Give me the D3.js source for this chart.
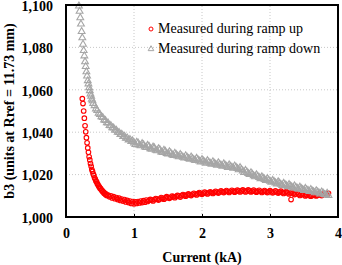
<!DOCTYPE html>
<html>
<head>
<meta charset="utf-8">
<script src="https://cdn.jsdelivr.net/npm/d3@7"></script>
<style>
  body { margin: 0; background: #fff; }
  svg text { font-family: "Liberation Serif", "Times New Roman", serif; }
</style>
</head>
<body>
<div id="vis"></div>
<script>
// ramp up (red circles)
var upCurrent = [0.24,0.25,0.26,0.27,0.28,0.29,0.30,0.31,0.32,0.33,0.34,0.35,0.36,0.37,0.38,0.39,0.40,0.41,0.42,0.43,0.44,0.45,0.46,0.47,0.48,0.49,0.50,0.51,0.52,0.53,0.54,0.55,0.56,0.57,0.58,0.59,0.60,
  0.62,0.64,0.66,0.68,0.70,0.72,0.74,0.76,0.78,0.80,0.82,0.84,0.86,0.88,0.90,0.92,0.94,0.96,0.98,1.00,1.02,1.04,1.06,1.08,1.10,1.12,1.14,1.16,1.18,1.20,
  1.24,1.28,1.32,1.36,1.40,1.44,1.48,1.52,1.56,1.60,1.64,1.68,1.72,1.76,1.80,1.84,1.88,1.92,1.96,2.00,2.04,2.08,2.12,2.16,2.20,2.24,2.28,2.32,2.36,2.40,
  2.44,2.48,2.52,2.56,2.60,2.64,2.68,2.72,2.76,2.80,2.84,2.88,2.92,2.96,3.00,3.04,3.08,3.12,3.16,3.20,3.24,3.28,3.31,3.32,3.36,3.40,3.44,3.48,3.52,3.56,
  3.60,3.64,3.68,3.72,3.76,3.80,3.84,3.86,
  1.22,1.26,1.30,1.34,1.38,1.42,1.46,1.50,1.54,1.58,1.62,1.66,1.70,1.74,1.78,1.82,1.86,1.90,1.94,1.98,2.02,2.06,2.10,2.14,2.18,2.22,2.26,2.30,2.34,2.38,
  2.42,2.46,2.50,2.54,2.58,2.62,2.66,2.70,2.74,2.78,2.82,2.86,2.90,2.94,2.98,3.02,3.06,3.10,3.14,3.18,3.22,3.26,3.30,3.34,3.38,3.42,3.46,3.50,3.54,3.58,
  3.62,3.66,3.70,3.74,3.78,3.82];
var upB3 = [1055.8,1053.5,1050.0,1046.6,1043.0,1040.2,1037.4,1035.0,1032.6,1030.5,1028.4,1026.9,1025.2,1023.9,1022.4,1021.5,1020.3,1019.6,1018.5,1017.9,1017.0,1016.6,1015.7,1015.3,1014.6,1014.2,1013.6,1013.4,1012.7,1012.6,1011.9,1011.9,1011.2,1011.3,1010.6,1010.8,1010.1,
  1010.3,1009.5,1010.0,1009.0,1009.6,1008.6,1009.2,1008.2,1008.9,1007.8,1008.5,1007.5,1008.2,1007.1,1007.8,1006.8,1007.5,1006.4,1007.3,1006.2,1007.2,1006.4,1007.3,1006.6,1007.5,1006.8,1007.7,1007.0,1008.0,1007.3,
  1008.3,1007.6,1008.7,1008.0,1009.2,1008.4,1009.6,1008.8,1009.9,1009.1,1010.2,1009.4,1010.6,1009.8,1010.9,1010.1,1011.2,1010.4,1011.5,1010.7,1011.7,1010.9,1011.9,1011.1,1012.1,1011.3,1012.3,1011.5,1012.5,1011.6,
  1012.6,1011.7,1012.7,1011.8,1012.8,1011.8,1012.8,1011.8,1012.7,1011.7,1012.6,1011.6,1012.5,1011.5,1012.4,1011.4,1012.3,1011.3,1012.2,1011.1,1012.0,1010.9,1008.2,1011.8,1010.6,1011.4,1010.2,1011.0,1009.9,1010.7,
  1009.8,1010.6,1009.9,1010.8,1010.1,1011.0,1010.5,1011.2,
  1007.9,1008.0,1008.2,1008.4,1008.5,1008.8,1009.0,1009.2,1009.3,1009.6,1009.7,1009.9,1010.1,1010.2,1010.4,1010.5,1010.7,1010.8,1011.0,1011.1,1011.2,1011.3,1011.4,1011.5,1011.6,1011.7,1011.8,1011.9,1012.0,1012.0,
  1012.1,1012.2,1012.2,1012.3,1012.3,1012.3,1012.3,1012.3,1012.2,1012.2,1012.1,1012.1,1012.0,1012.0,1011.9,1011.9,1011.8,1011.8,1011.7,1011.6,1011.5,1011.4,1011.3,1011.2,1011.0,1010.8,1010.6,1010.5,1010.3,1010.2,
  1010.2,1010.3,1010.3,1010.5,1010.6,1010.8];

// ramp down (grey triangles)
var downCurrent = [0.19,0.20,0.21,0.22,0.23,0.24,0.25,0.26,0.27,0.28,0.29,0.30,0.31,0.32,0.33,0.34,0.35,0.36,0.37,0.38,0.39,0.40,
  0.42,0.44,0.46,0.48,0.50,0.52,0.54,0.56,0.58,0.60,0.62,0.64,0.66,0.68,0.70,0.72,0.74,0.76,0.78,0.80,0.82,0.84,0.86,0.88,0.90,0.92,0.94,0.96,0.98,1.00,
  1.04,1.08,1.12,1.16,1.20,1.24,1.28,1.32,1.36,1.40,1.44,1.48,1.52,1.56,1.60,1.64,1.68,1.72,1.76,1.80,1.84,1.88,1.92,1.96,2.00,2.04,2.08,2.12,2.16,2.20,
  2.24,2.28,2.32,2.36,2.40,2.44,2.48,2.52,2.56,2.60,2.64,2.68,2.72,2.76,2.80,2.84,2.88,2.92,2.96,3.00,3.04,3.08,3.12,3.16,3.20,3.24,3.28,3.32,3.36,3.40,
  3.44,3.48,3.52,3.56,3.60,3.64,3.68,3.72,3.76,3.80,3.84,3.86,
  1.02,1.06,1.10,1.14,1.18,1.22,1.26,1.30,1.34,1.38,1.42,1.46,1.50,1.54,1.58,1.62,1.66,1.70,1.74,1.78,1.82,1.86,1.90,1.94,1.98,2.02,2.06,2.10,2.14,2.18,
  2.22,2.26,2.30,2.34,2.38,2.42,2.46,2.50,2.54,2.58,2.62,2.66,2.70,2.74,2.78,2.82,2.86,2.90,2.94,2.98,3.02,3.06,3.10,3.14,3.18,3.22,3.26,3.30,3.34,3.38,
  3.42,3.46,3.50,3.54,3.58,3.62,3.66,3.70,3.74,3.78,3.82];
var downB3 = [1099.5,1097.0,1094.0,1091.0,1087.5,1084.5,1081.5,1078.5,1076.0,1073.2,1071.0,1068.5,1066.5,1064.3,1062.8,1061.0,1059.6,1058.0,1057.0,1055.6,1054.8,1053.6,
  1052.5,1051.0,1050.3,1049.0,1048.4,1047.3,1046.9,1045.8,1045.5,1044.5,1044.3,1043.2,1043.1,1042.1,1042.0,1041.0,1040.9,1040.0,1039.9,1038.9,1039.0,1038.0,1038.1,1037.1,1037.3,1036.3,1036.6,1035.6,1035.9,1034.9,
  1035.3,1033.8,1034.6,1033.0,1033.8,1032.2,1033.0,1031.5,1032.2,1030.7,1031.5,1030.0,1030.8,1029.4,1030.1,1028.8,1029.5,1028.2,1028.9,1027.6,1028.3,1027.0,1027.7,1026.4,1027.1,1025.9,1026.6,1025.4,1026.1,1024.9,
  1025.6,1024.4,1025.1,1023.9,1024.6,1023.5,1024.1,1022.9,1023.3,1021.7,1022.0,1020.5,1020.9,1019.5,1019.9,1018.6,1019.0,1017.7,1018.1,1016.9,1017.3,1016.1,1016.6,1015.4,1015.9,1014.8,1015.3,1014.2,1014.7,1013.6,
  1014.1,1013.0,1013.5,1012.5,1013.0,1011.9,1012.4,1011.4,1011.8,1010.6,1011.2,1010.2,
  1034.2,1034.9,1033.6,1034.1,1032.8,1033.4,1032.0,1032.6,1031.2,1031.8,1030.4,1031.0,1029.7,1030.2,1029.0,1029.5,1028.4,1028.8,1027.8,1028.2,1027.2,1027.6,1026.6,1027.0,1026.0,1026.4,1025.4,1025.9,1024.9,1025.4,
  1024.4,1024.9,1023.9,1024.4,1023.4,1023.9,1023.0,1023.5,1022.3,1022.4,1021.0,1021.2,1020.0,1020.2,1019.0,1019.2,1018.1,1018.3,1017.2,1017.5,1016.4,1016.7,1015.6,1016.0,1014.9,1015.3,1014.3,1014.6,1013.7,1014.0,
  1013.1,1013.4,1012.5,1012.9,1012.0,1012.3,1011.4,1011.8,1010.9,1011.3,1010.4];

var xTicks = [0, 1, 2, 3, 4];
var yTicks = [1000, 1020, 1040, 1060, 1080, 1100];
var legendLabels = ["Measured during ramp up", "Measured during ramp down"];

var width = 342, height = 265;
var margin = {top: 5, right: 4, bottom: 48, left: 66};

var svg = d3.select("#vis").append("svg").attr("width", width).attr("height", height);

var x = d3.scaleLinear().domain([0, 4]).range([margin.left, width - margin.right]);
var y = d3.scaleLinear().domain([1000, 1100]).range([height - margin.bottom, margin.top]);

// gridlines
svg.selectAll(".gx").data(xTicks.slice(1, -1)).enter().append("line")
    .attr("x1", function(d) { return x(d); })
    .attr("x2", function(d) { return x(d); })
    .attr("y1", y(1000)).attr("y2", y(1100))
    .style("stroke", "#c8c8c8").style("stroke-dasharray", "1,2");
svg.selectAll(".gy").data(yTicks.slice(1, -1)).enter().append("line")
    .attr("x1", x(0)).attr("x2", x(4))
    .attr("y1", function(d) { return y(d); })
    .attr("y2", function(d) { return y(d); })
    .style("stroke", "#c8c8c8").style("stroke-dasharray", "1,2");

// axes labels via d3 axes
var fmt = d3.format(",");
var xAxis = svg.append("g").attr("transform", "translate(0," + y(1000) + ")")
    .call(d3.axisBottom(x).tickValues(xTicks).tickSize(3).tickPadding(8).tickFormat(d3.format("d")));
var yAxis = svg.append("g").attr("transform", "translate(" + x(0) + ",0)")
    .call(d3.axisLeft(y).tickValues(yTicks).tickSize(0).tickPadding(13).tickFormat(fmt));
[xAxis, yAxis].forEach(function(a) {
  a.select(".domain").remove();
  a.selectAll("text").style("font-family", "Liberation Serif").style("font-size", "14px")
      .style("font-weight", "bold").style("fill", "#000");
  a.selectAll("line").style("stroke", "#000");
});
yAxis.selectAll("text").attr("dy", "0.38em");
xAxis.selectAll("line").attr("y2", -3);

// ramp up points
var upData = upCurrent.map(function(c, i) { return [c, upB3[i]]; });
svg.append("g").selectAll("circle").data(upData).enter().append("circle")
    .attr("cx", function(d) { return x(d[0]); })
    .attr("cy", function(d) { return y(d[1]); })
    .attr("r", 2.3)
    .style("fill", "none").style("stroke", "#ff0000").style("stroke-width", 1.1);

// ramp down points
var downData = downCurrent.map(function(c, i) { return [c, downB3[i]]; });
var tri = d3.symbol().type(d3.symbolTriangle).size(20);
svg.append("g").selectAll("path").data(downData).enter().append("path")
    .attr("d", tri)
    .attr("transform", function(d) { return "translate(" + x(d[0]) + "," + y(d[1]) + ")"; })
    .style("fill", "none").style("stroke", "#a6a6a6").style("stroke-width", 1.1);

// frame
svg.append("rect")
    .attr("x", x(0)).attr("y", y(1100))
    .attr("width", x(4) - x(0)).attr("height", y(1000) - y(1100))
    .style("fill", "none").style("stroke", "#000").style("stroke-width", 2);

// legend
var legend = svg.append("g");
legend.append("circle").attr("cx", 151).attr("cy", 29).attr("r", 2)
    .style("fill", "none").style("stroke", "#ff0000");
legend.append("path").attr("d", d3.symbol().type(d3.symbolTriangle).size(14)).attr("transform", "translate(151,49)")
    .style("fill", "none").style("stroke", "#a6a6a6");
legendLabels.forEach(function(t, i) {
  legend.append("text").attr("x", 158).attr("y", 33 + i * 20)
      .style("font-size", "14px").text(t);
});

// axis titles
svg.append("text").attr("x", (x(0) + x(4)) / 2).attr("y", 262)
    .attr("text-anchor", "middle").style("font-size", "14px").style("font-weight", "bold")
    .text("Current (kA)");
svg.append("text")
    .attr("transform", "translate(14," + ((y(1000) + y(1100)) / 2) + ") rotate(-90)")
    .attr("text-anchor", "middle").style("font-size", "14px").style("font-weight", "bold")
    .text("b3 (units at Rref = 11.73 mm)");
</script>
</body>
</html>
